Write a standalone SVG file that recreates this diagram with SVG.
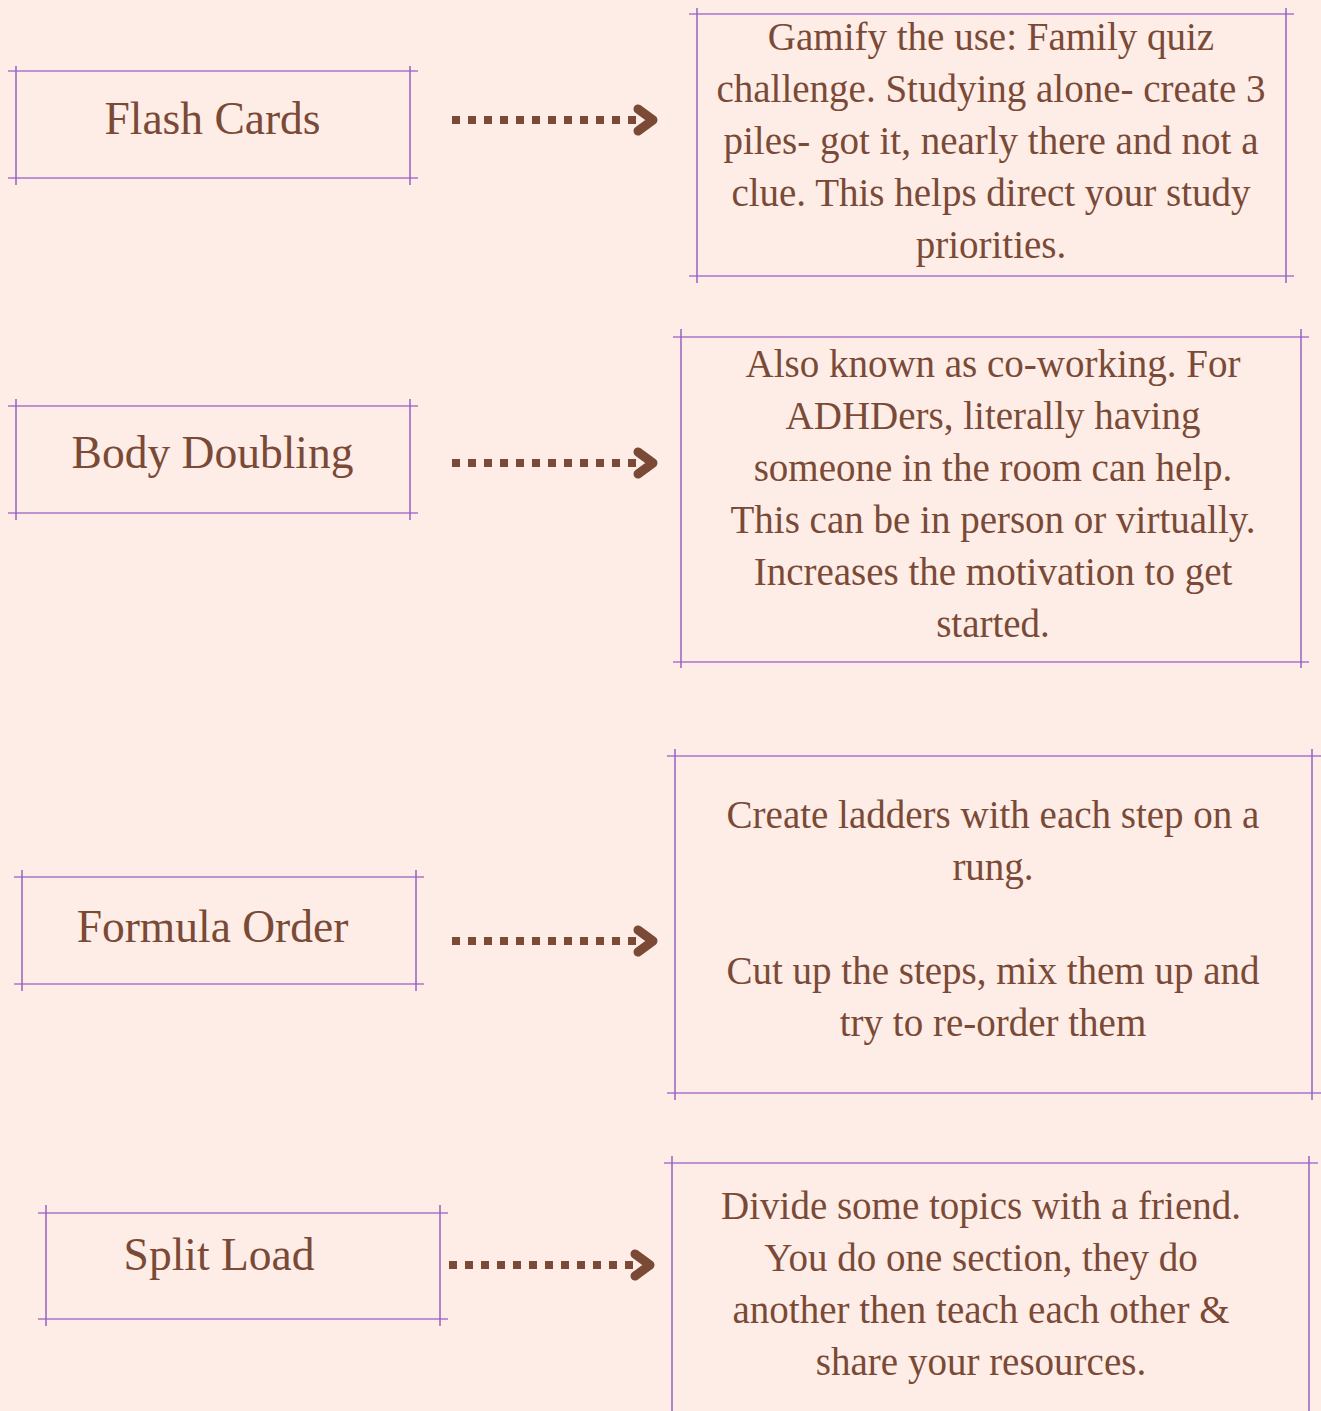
<svg xmlns="http://www.w3.org/2000/svg" width="1321" height="1411" viewBox="0 0 1321 1411">
<style>
.h{stroke:#bf93d2;stroke-width:2;fill:none}
.v{stroke:#9562c2;stroke-width:1.5;fill:none}
.lbl{font-family:"Liberation Serif","Times New Roman",serif;font-size:45.5px;fill:#7a4a37;text-anchor:middle}
.txt{font-family:"Liberation Serif","Times New Roman",serif;font-size:39px;fill:#7a4a37;text-anchor:middle}
.dots{stroke:#7a4a37;stroke-width:8;stroke-dasharray:8 8;fill:none}
.chev{stroke:#7a4a37;stroke-width:9;stroke-linecap:round;stroke-linejoin:round;fill:none}
</style>
<rect width="1321" height="1411" fill="#feede6"/>

<g id="node-flash-cards">
<path class="h" d="M8 71H418M8 178H418"/>
<path class="v" d="M16 66V185M410 66V185"/>
<text class="lbl" x="212.5" y="134">Flash Cards</text>
</g>
<g id="node-flash-cards-desc">
<path class="h" d="M689 14H1294M689 276H1294"/>
<path class="v" d="M697 8V283M1286 8V283"/>
<text class="txt" x="991" y="50">Gamify the use: Family quiz</text>
<text class="txt" x="991" y="102">challenge. Studying alone- create 3</text>
<text class="txt" x="991" y="154">piles- got it, nearly there and not a</text>
<text class="txt" x="991" y="206">clue. This helps direct your study</text>
<text class="txt" x="991" y="258">priorities.</text>
</g>

<g id="node-body-doubling">
<path class="h" d="M8 406H418M8 513H418"/>
<path class="v" d="M16 399V520M410 399V520"/>
<text class="lbl" x="212.5" y="468">Body Doubling</text>
</g>
<g id="node-body-doubling-desc">
<path class="h" d="M673 337H1309M673 662H1309"/>
<path class="v" d="M681 329V668M1301 329V668"/>
<text class="txt" x="993" y="377">Also known as co-working. For</text>
<text class="txt" x="993" y="429">ADHDers, literally having</text>
<text class="txt" x="993" y="481">someone in the room can help.</text>
<text class="txt" x="993" y="533">This can be in person or virtually.</text>
<text class="txt" x="993" y="585">Increases the motivation to get</text>
<text class="txt" x="993" y="637">started.</text>
</g>

<g id="node-formula-order">
<path class="h" d="M14 877H424M14 984H424"/>
<path class="v" d="M22 870V991M416 870V991"/>
<text class="lbl" x="212.5" y="942">Formula Order</text>
</g>
<g id="node-formula-order-desc">
<path class="h" d="M667 756H1321M667 1093H1321"/>
<path class="v" d="M675 749V1100M1312 749V1100"/>
<text class="txt" x="993" y="828">Create ladders with each step on a</text>
<text class="txt" x="993" y="880">rung.</text>
<text class="txt" x="993" y="984">Cut up the steps, mix them up and</text>
<text class="txt" x="993" y="1036">try to re-order them</text>
</g>

<g id="node-split-load">
<path class="h" d="M38 1213H448M38 1319H448"/>
<path class="v" d="M46 1205V1326M440 1205V1326"/>
<text class="lbl" x="219" y="1270">Split Load</text>
</g>
<g id="node-split-load-desc">
<path class="h" d="M664 1163H1318"/>
<path class="v" d="M672 1156V1411M1309 1156V1411"/>
<text class="txt" x="981" y="1219">Divide some topics with a friend.</text>
<text class="txt" x="981" y="1271">You do one section, they do</text>
<text class="txt" x="981" y="1323">another then teach each other &amp;</text>
<text class="txt" x="981" y="1375">share your resources.</text>
</g>

<g id="connectors">
<path class="dots" d="M452 120H636"/>
<path class="chev" d="M638 109L653 120L638 131"/>
<path class="dots" d="M452 463H636"/>
<path class="chev" d="M638 452L653 463L638 474"/>
<path class="dots" d="M452 941H636"/>
<path class="chev" d="M638 930L653 941L638 952"/>
<path class="dots" d="M449 1265H633"/>
<path class="chev" d="M635 1254L650 1265L635 1276"/>
</g>
</svg>
